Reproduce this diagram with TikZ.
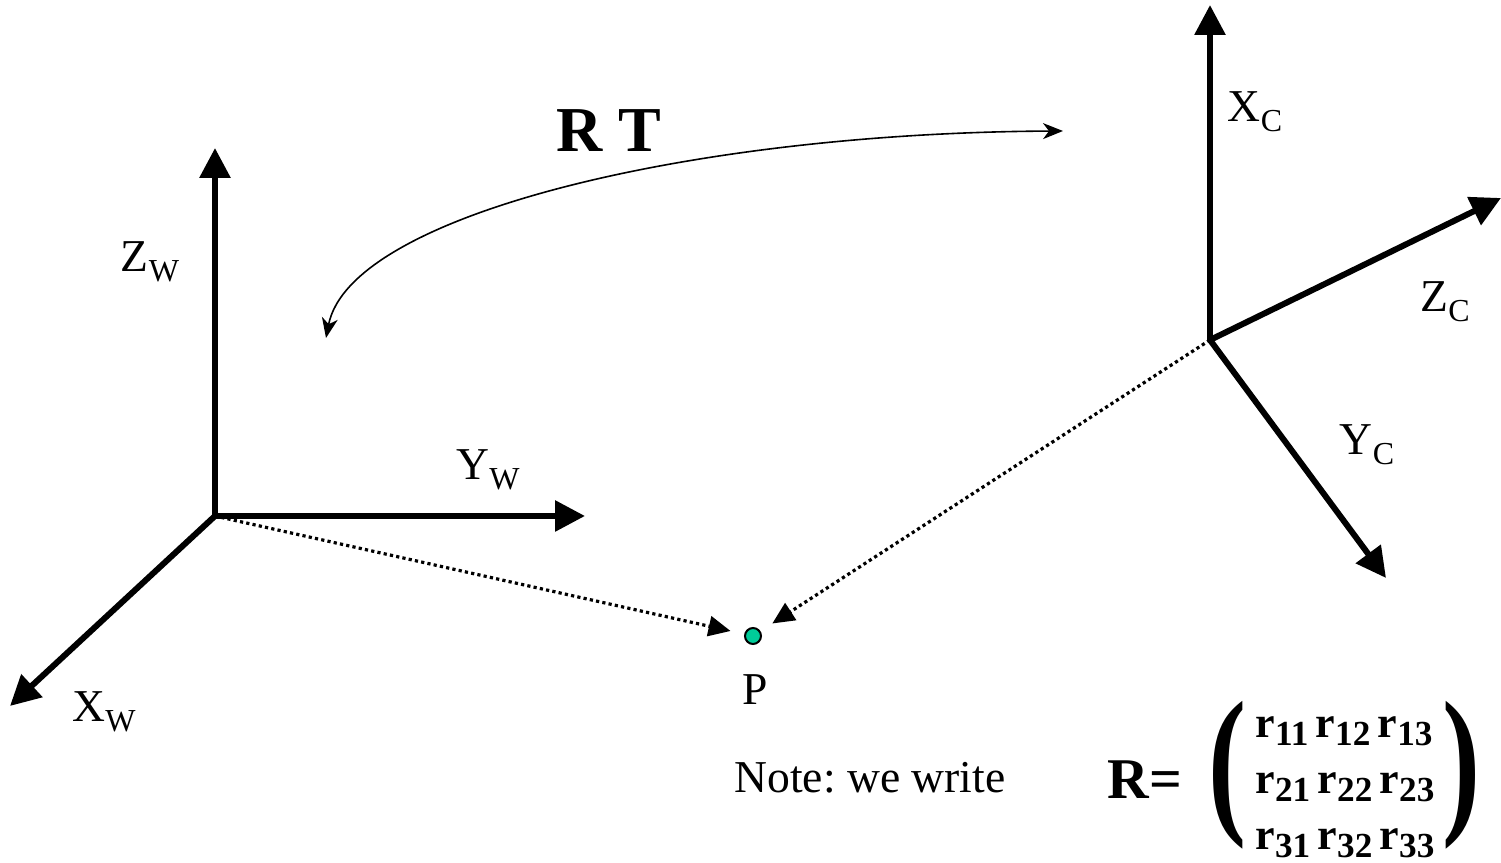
\documentclass[tikz,border=0pt]{standalone}
\usepackage{fontspec}
\setmainfont{Liberation Serif}
\usetikzlibrary{arrows.meta}
\frenchspacing
\newcommand{\axsub}[1]{\raisebox{-2.6pt}{\fontsize{8}{8}\selectfont #1}}
\newcommand{\rsub}[1]{r\raisebox{-2.2pt}{\fontsize{8.8}{8.8}\selectfont\bfseries #1}}

\begin{document}
\begin{tikzpicture}[x=0.25pt, y=-0.25pt,
  axis/.style={line width=1.5pt, -{Triangle[length=7.5pt, width=7.5pt]}},
  ray/.style={line width=0.8pt, dash pattern=on 0.8pt off 0.8pt,
    -{Triangle[length=5.5pt, width=5pt]}, shorten >=3.5pt},
  lbl/.style={font=\fontsize{11.4}{13}\selectfont, inner sep=0pt}]
\useasboundingbox (0,0) rectangle (1501,863);
% world frame
\coordinate (ow) at (215,516);
\coordinate (zw) at (215,148);
\coordinate (yw) at (585,516);
\coordinate (xw) at (10,706);
\draw[axis] (ow) -- (zw);
\draw[axis] (ow) -- (yw);
\draw[axis] (ow) -- (xw);
\node[lbl] (zwl) at (150,262) {Z\axsub{W}};
\node[lbl] (ywl) at (488,470) {Y\axsub{W}};
\node[lbl] (xwl) at (104,712) {X\axsub{W}};
% camera frame
\coordinate (oc) at (1210,340);
\coordinate (xc) at (1210,5);
\coordinate (zc) at (1501,198);
\coordinate (yc) at (1386,578);
\draw[axis] (oc) -- (xc);
\draw[axis] (oc) -- (zc);
\draw[axis] (oc) -- (yc);
\node[lbl] (xcl) at (1255,112) {X\axsub{C}};
\node[lbl] (zcl) at (1445,302) {Z\axsub{C}};
\node[lbl] (ycl) at (1367,445) {Y\axsub{C}};
% point P
\node[circle, draw, line width=0.5pt, fill={rgb,255:red,0;green,204;blue,153},
  minimum size=4pt, inner sep=0pt] (p) at (753,636) {};
\node[lbl] (pl) at (755,690) {P};
\draw[ray] (ow) -- (p);
\draw[ray] (oc) -- (p);
% rotation / translation
\coordinate (rta) at (1063,131);
\coordinate (rtb) at (326,338);
\draw[line width=0.4pt, {Stealth[length=5pt, width=4pt, inset=1.5pt]}-{Stealth[length=5pt, width=4pt, inset=1.5pt]}]
  (rtb) .. controls (350,215) and (690,133) .. (rta);
\node[font=\fontsize{16}{18}\selectfont\bfseries, inner sep=0pt] (rtl) at (609,131) {R T};
% note and matrix
\node[lbl] (note) at (870,778) {Note: we write};
\node[font=\fontsize{14.4}{16}\selectfont\bfseries, inner sep=0pt] (req) at (1145,780) {R=};
\node[inner sep=0pt] (lpar) at (1227,775) {\resizebox*{9.5pt}{37pt}{\bfseries(}};
\node[inner sep=0pt] (rpar) at (1461,775) {\resizebox*{9.5pt}{37pt}{\bfseries)}};
\node[font=\fontsize{11}{14}\selectfont\bfseries, inner sep=0pt] (rmat) at (1345,782)
  {\begin{tabular}{@{}l@{}}
   \rsub{11}\,\rsub{12}\,\rsub{13}\\
   \rsub{21}\,\rsub{22}\,\rsub{23}\\
   \rsub{31}\,\rsub{32}\,\rsub{33}
   \end{tabular}};
\end{tikzpicture}
\end{document}
